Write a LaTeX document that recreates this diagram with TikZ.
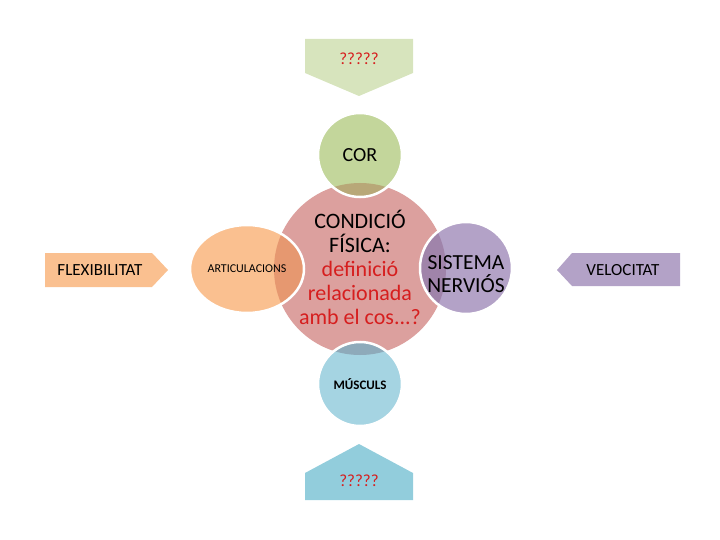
\documentclass[tikz,border=0pt]{standalone}
\usepackage{fontspec}
\setmainfont{Carlito}
\definecolor{greenlt}{RGB}{215,228,189}
\definecolor{greenc}{RGB}{195,214,155}
\definecolor{greeno}{RGB}{184,168,120}
\definecolor{pinkc}{RGB}{220,160,158}
\definecolor{orangec}{RGB}{250,192,144}
\definecolor{orangeo}{RGB}{230,152,112}
\definecolor{purplec}{RGB}{179,162,199}
\definecolor{purpleo}{RGB}{160,132,170}
\definecolor{bluec}{RGB}{165,212,226}
\definecolor{blueo}{RGB}{142,170,186}
\definecolor{bluedk}{RGB}{146,205,220}
\definecolor{redtxt}{RGB}{214,30,30}
\begin{document}
\begin{tikzpicture}[x=1pt,y=-1pt,
  ring/.style={draw=white,line width=2.5pt},
  lbl/.style={inner sep=0pt,align=center,text=black}]
\useasboundingbox (0,0) rectangle (720,540);
% coordinates
\coordinate (mc) at (360,269);
\coordinate (corc) at (360,155);
\coordinate (musc) at (360,384);
\coordinate (artc) at (247,269);
\coordinate (sisc) at (466,268);
% arrows
\fill[greenlt] (305,39) -- (413,39) -- (413,73) -- (359,96) -- (305,73) -- cycle;
\fill[bluedk] (305,500) -- (413,500) -- (413,473) -- (359,444) -- (305,473) -- cycle;
\fill[orangec] (45,253) -- (152,253) -- (168,270) -- (152,287) -- (45,287) -- cycle;
\fill[purplec] (680,253) -- (572,253) -- (557,270) -- (572,286) -- (680,286) -- cycle;
% main circle
\fill[pinkc] (mc) circle (86);
% satellites
\fill[greenc] (corc) circle (42);
\fill[bluec] (musc) circle (42);
\fill[orangec] (artc) ellipse [x radius=57, y radius=44];
\fill[purplec] (sisc) circle (46);
\begin{scope}
\clip (mc) circle (86);
\fill[greeno] (corc) circle (42);
\fill[blueo] (musc) circle (42);
\fill[orangeo] (artc) ellipse [x radius=57, y radius=44];
\fill[purpleo] (sisc) circle (46);
\end{scope}
\draw[ring] (corc) circle (42);
\draw[ring] (musc) circle (42);
\draw[ring] (artc) ellipse [x radius=57, y radius=44];
\draw[ring] (sisc) circle (46);
% texts
\node[lbl,text=redtxt,font=\fontsize{17}{20}\selectfont] (q1) at (359,59) {?????};
\node[lbl,text=redtxt,font=\fontsize{17}{20}\selectfont] (q2) at (359,481) {?????};
\node[lbl,font=\fontsize{20}{22}\selectfont] (cor) at (corc) {COR};
\node[lbl,font=\bfseries\fontsize{13}{15}\selectfont] (mus) at (musc) {MÚSCULS};
\node[lbl,font=\fontsize{12}{14}\selectfont] (art) at (artc) {ARTICULACIONS};
\node[lbl,font=\fontsize{21.5}{23}\selectfont] (sis) at ([yshift=-6]sisc) {SISTEMA\\NERVIÓS};
\node[lbl,font=\fontsize{17}{20}\selectfont] (flex) at (100,270) {FLEXIBILITAT};
\node[lbl,font=\fontsize{17}{20}\selectfont] (vel) at (623,270) {VELOCITAT};
\node[lbl,font=\fontsize{22}{24}\selectfont] (main) at ([yshift=2]mc) {CONDICIÓ\\FÍSICA:\\\textcolor{redtxt}{definició}\\\textcolor{redtxt}{relacionada}\\\textcolor{redtxt}{amb el cos...?}};
\end{tikzpicture}
\end{document}
